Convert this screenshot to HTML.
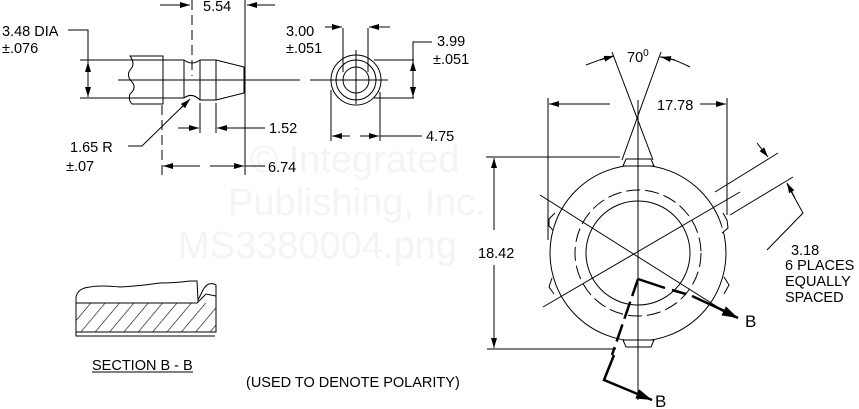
<!DOCTYPE html>
<html><head><meta charset="utf-8"><style>
html,body{margin:0;padding:0;background:#fff}
svg{display:block}
text{font-family:"Liberation Sans",Arial,sans-serif;fill:#000}
</style></head><body>
<svg width="859" height="409" viewBox="0 0 859 409" xmlns="http://www.w3.org/2000/svg">
<defs>
<marker id="a" viewBox="0 0 10 6" refX="10" refY="3" markerWidth="10" markerHeight="6" orient="auto" markerUnits="userSpaceOnUse"><path d="M0,0L10,3L0,6z" fill="#000"/></marker>
<marker id="b" viewBox="0 0 16 10" refX="16" refY="5" markerWidth="16" markerHeight="10" orient="auto" markerUnits="userSpaceOnUse"><path d="M0,0L16,5L0,10z" fill="#000"/></marker>
<pattern id="h" width="11" height="11" patternUnits="userSpaceOnUse" patternTransform="rotate(40)"><line x1="0" y1="0" x2="0" y2="11" stroke="#000" stroke-width="1.2"/></pattern>
</defs>
<g style="font-size:38px">
<text x="250" y="172" style="fill:#f4f4f4">© Integrated</text>
<text x="228" y="215" style="fill:#f4f4f4">Publishing, Inc.</text>
<text x="178" y="258" style="fill:#f4f4f4">MS3380004.png</text>
</g>
<g stroke="#000" stroke-width="1" fill="none">
<line x1="118" y1="80" x2="300" y2="80"/>
<line x1="80" y1="60" x2="163" y2="60"/>
<line x1="80" y1="98" x2="163" y2="98"/>
<path d="M130,56 q6,8 0,14 q-4,6 2,12 q5,6 -2,12 q-2,6 2,10 L163,104 L163,56 Z"/>
<path d="M163,60 L184,60 Q192,66 200,60 L216,60 L244,67 L244,93 L216,100 L200,100 Q192,92 184,98 L163,98"/>
<line x1="184" y1="60" x2="184" y2="98"/><line x1="200" y1="60" x2="200" y2="100"/><line x1="216" y1="60" x2="216" y2="100"/>
<path d="M68,30 L88,30 L88,96" /><line x1="88" y1="68" x2="88" y2="62" marker-end="url(#a)"/><line x1="88" y1="90" x2="88" y2="97" marker-end="url(#a)"/>
<line x1="192" y1="0" x2="192" y2="76" stroke-dasharray="10,5"/>
<line x1="245" y1="0" x2="245" y2="175"/>
<line x1="160" y1="5" x2="190" y2="5" marker-end="url(#a)"/><line x1="275" y1="5" x2="247" y2="5" marker-end="url(#a)"/>
<line x1="162" y1="105" x2="162" y2="175" stroke-dasharray="10,5"/>
<line x1="200" y1="103" x2="200" y2="133"/><line x1="216" y1="103" x2="216" y2="133"/>
<line x1="178" y1="128" x2="199" y2="128" marker-end="url(#a)"/><line x1="265" y1="128" x2="217" y2="128" marker-end="url(#a)"/>
<line x1="200" y1="166" x2="163" y2="166" marker-end="url(#a)"/><line x1="210" y1="166" x2="244" y2="166" marker-end="url(#a)"/><line x1="245" y1="166" x2="265" y2="166"/>
<path d="M128,146 L142,146 L189,100"/><line x1="180" y1="109" x2="190" y2="99" marker-end="url(#a)"/>
<line x1="310" y1="80" x2="388" y2="80"/><line x1="356" y1="50" x2="356" y2="104"/>
<circle cx="356" cy="80" r="25"/><circle cx="356" cy="80" r="20"/><circle cx="356" cy="80" r="13"/>
<line x1="343" y1="28" x2="343" y2="72"/><line x1="368" y1="28" x2="368" y2="72"/>
<line x1="325" y1="27" x2="342" y2="27" marker-end="url(#a)"/><line x1="390" y1="27" x2="369" y2="27" marker-end="url(#a)"/>
<line x1="374" y1="60" x2="414" y2="60"/><line x1="374" y1="98" x2="414" y2="98"/>
<path d="M432,42 L413,42 L413,98"/><line x1="413" y1="70" x2="413" y2="61" marker-end="url(#a)"/><line x1="413" y1="88" x2="413" y2="97" marker-end="url(#a)"/>
<line x1="331" y1="90" x2="331" y2="141"/><line x1="380" y1="92" x2="380" y2="141"/>
<line x1="350" y1="136" x2="332" y2="136" marker-end="url(#a)"/><line x1="360" y1="136" x2="379" y2="136" marker-end="url(#a)"/><line x1="380" y1="136" x2="422" y2="136"/>
<circle cx="638" cy="253" r="88"/>
<g fill="#fff">
<path d="M623,166 L626,159 L651,159 L654,166 Z"/>
<path d="M623,340 L626,347 L651,347 L654,340 Z"/>
<path d="M555,213 L549,219 L549,226 L553,230"/>
<path d="M723,213 L727,220 L728,228 L722,233"/>
<path d="M552,278 L549,287 L554,294"/>
<path d="M724,277 L729,285 L724,294"/>
</g>
<circle cx="638" cy="253" r="63" stroke-dasharray="14,5"/>
<circle cx="638" cy="253" r="52"/>
<line x1="638" y1="100" x2="638" y2="400"/>
<line x1="540" y1="195" x2="735" y2="318"/>
<line x1="543" y1="307" x2="740" y2="192"/>
<line x1="612" y1="52" x2="653" y2="160"/><line x1="661" y1="52" x2="622" y2="160"/>
<path d="M586,65 Q612,55 614,56" /><line x1="600" y1="60" x2="614" y2="56" marker-end="url(#a)"/>
<path d="M690,67 Q670,57 660,57"/><line x1="675" y1="60" x2="661" y2="57" marker-end="url(#a)"/>
<line x1="548" y1="98" x2="548" y2="240"/><line x1="727" y1="98" x2="727" y2="215"/>
<line x1="610" y1="104" x2="549" y2="104" marker-end="url(#a)"/><line x1="700" y1="104" x2="726" y2="104" marker-end="url(#a)"/>
<line x1="486" y1="157" x2="620" y2="157"/><line x1="487" y1="349" x2="616" y2="349"/>
<line x1="494" y1="230" x2="494" y2="158" marker-end="url(#a)"/><line x1="494" y1="265" x2="494" y2="348" marker-end="url(#a)"/>
<line x1="715" y1="192" x2="778" y2="153"/><line x1="730" y1="215" x2="793" y2="177"/>
<line x1="757" y1="143" x2="768" y2="157" marker-end="url(#a)"/>
<path d="M767,250 L803,213 L787,184"/><line x1="795" y1="198" x2="787" y2="183" marker-end="url(#a)"/>
</g>
<g stroke="#000" stroke-width="2.5" fill="none">
<path d="M638,279 L612,355" stroke-dasharray="18,6"/>
<path d="M614,355 L604,380 L640,395"/>
<line x1="640" y1="395" x2="652" y2="400" marker-end="url(#b)"/>
<path d="M638,279 L665,288" />
<path d="M672,290 L686,294 M692,296 L733,315" />
<line x1="720" y1="309" x2="738" y2="318" marker-end="url(#b)"/>
</g>
<g stroke="#000" stroke-width="1" fill="none">
<path d="M76,297 Q78,288 90,287 Q100,285 120,287 Q140,286 160,283 Q175,283 190,281 L197,281 L198,300 L203,290 Q207,282 214,284 L216,285 L216,311" fill="#fff"/>
<rect x="76" y="303" width="140" height="29" fill="url(#h)" stroke="none"/>
<path d="M76,297 L76,336 L215,336"/>
<path d="M76,303 L197,303 L206,294 L216,296 L216,332 L76,332"/>
<line x1="92" y1="372" x2="193" y2="372"/>
</g>
<g style="font-size:14.5px">
<text x="2" y="36">3.48 DIA</text><text x="2" y="53">±.076</text>
<text x="203" y="11">5.54</text>
<text x="70" y="152">1.65  R</text><text x="66" y="171">±.07</text>
<text x="269" y="133">1.52</text><text x="268" y="172">6.74</text>
<text x="286" y="36">3.00</text><text x="286" y="53">±.051</text>
<text x="437" y="46">3.99</text><text x="433" y="64">±.051</text>
<text x="426" y="141">4.75</text>
<text x="627" y="62">70<tspan dy="-6" style="font-size:10px">0</tspan></text>
<text x="657" y="110">17.78</text>
<text x="478" y="258">18.42</text>
<text x="791" y="255">3.18</text><text x="785" y="270">6 PLACES</text><text x="785" y="286">EQUALLY</text><text x="785" y="302">SPACED</text>
<text x="745" y="327" style="font-size:17px">B</text><text x="655" y="407" style="font-size:17px">B</text>
<text x="92" y="370">SECTION  B - B</text>
<text x="246" y="387">(USED TO DENOTE POLARITY)</text>
</g>
</svg>
</body></html>
